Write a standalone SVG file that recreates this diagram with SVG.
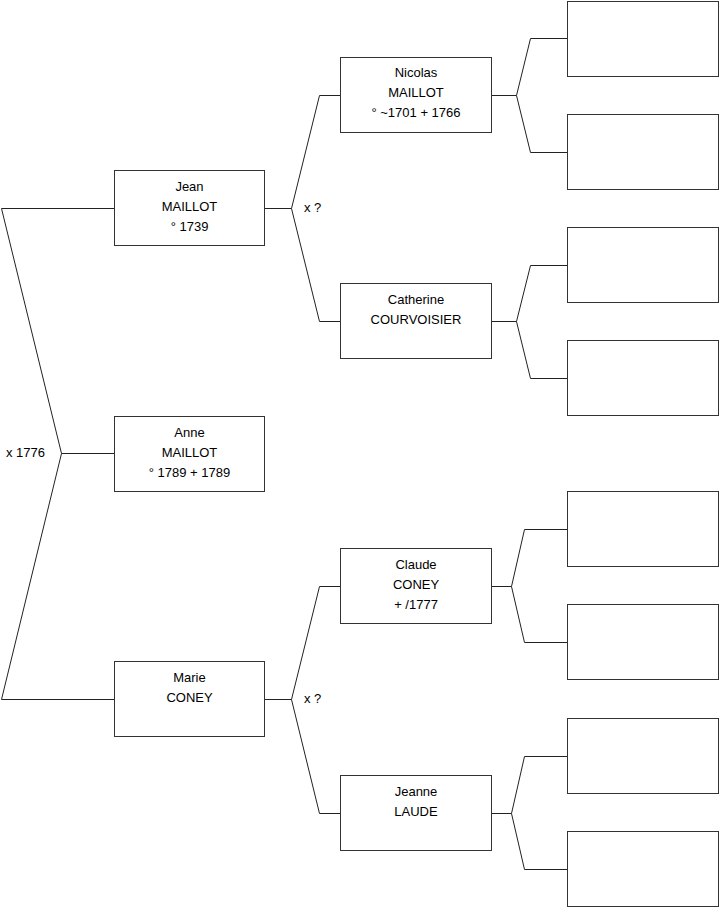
<svg xmlns="http://www.w3.org/2000/svg" width="719" height="908" viewBox="0 0 719 908">
<style>
.box{fill:#fff;stroke:#333;stroke-width:1}
.ln{fill:none;stroke:#222;stroke-width:1}
text{font-family:"Liberation Sans",Arial,sans-serif;font-size:13px;fill:#000}
.c{text-anchor:middle}
</style>
<rect width="719" height="908" fill="#fff"/>
<g id="connectors">
<polyline class="ln" points="114,208.5 1.5,208.5 61.5,453.5 1.5,699.5 114,699.5"/>
<line class="ln" x1="61.5" y1="453.5" x2="114" y2="453.5"/>
<polyline class="ln" points="340,95.5 319.5,95.5 291.5,208.5 319.5,321.5 340,321.5"/>
<line class="ln" x1="265" y1="208.5" x2="291.5" y2="208.5"/>
<polyline class="ln" points="340,586.5 319.5,586.5 291.5,699.5 319.5,813.5 340,813.5"/>
<line class="ln" x1="265" y1="699.5" x2="291.5" y2="699.5"/>
<polyline class="ln" points="567,38.5 530.5,38.5 516.5,95.5 530.5,152.5 567,152.5"/>
<line class="ln" x1="492" y1="95.5" x2="516.5" y2="95.5"/>
<polyline class="ln" points="567,265.5 530.5,265.5 516.5,321.5 530.5,378.5 567,378.5"/>
<line class="ln" x1="492" y1="321.5" x2="516.5" y2="321.5"/>
<polyline class="ln" points="567,529.5 524.5,529.5 511.5,586.5 524.5,642.5 567,642.5"/>
<line class="ln" x1="492" y1="586.5" x2="511.5" y2="586.5"/>
<polyline class="ln" points="567,756.5 524.5,756.5 511.5,813.5 524.5,869.5 567,869.5"/>
<line class="ln" x1="492" y1="813.5" x2="511.5" y2="813.5"/>
<text x="304" y="212">x ?</text>
<text x="304" y="703">x ?</text>
<text x="6" y="457">x 1776</text>
</g>
<g id="jean">
<rect class="box" x="114.5" y="170.5" width="150" height="75"/>
<text class="c" x="189.5" y="191">Jean</text>
<text class="c" x="189.5" y="211">MAILLOT</text>
<text class="c" x="189.5" y="231">° 1739</text>
</g>
<g id="anne">
<rect class="box" x="114.5" y="416.5" width="150" height="75"/>
<text class="c" x="189.5" y="437">Anne</text>
<text class="c" x="189.5" y="457">MAILLOT</text>
<text class="c" x="189.5" y="477">° 1789 + 1789</text>
</g>
<g id="marie">
<rect class="box" x="114.5" y="661.5" width="150" height="75"/>
<text class="c" x="189.5" y="682">Marie</text>
<text class="c" x="189.5" y="702">CONEY</text>
</g>
<g id="nicolas">
<rect class="box" x="340.5" y="57.5" width="151" height="75"/>
<text class="c" x="416" y="77">Nicolas</text>
<text class="c" x="416" y="97">MAILLOT</text>
<text class="c" x="416" y="117">° ~1701 + 1766</text>
</g>
<g id="catherine">
<rect class="box" x="340.5" y="283.5" width="151" height="75"/>
<text class="c" x="416" y="304">Catherine</text>
<text class="c" x="416" y="324">COURVOISIER</text>
</g>
<g id="claude">
<rect class="box" x="340.5" y="548.5" width="151" height="75"/>
<text class="c" x="416" y="569">Claude</text>
<text class="c" x="416" y="589">CONEY</text>
<text class="c" x="416" y="609">+ /1777</text>
</g>
<g id="jeanne">
<rect class="box" x="340.5" y="775.5" width="151" height="75"/>
<text class="c" x="416" y="796">Jeanne</text>
<text class="c" x="416" y="816">LAUDE</text>
</g>
<g id="p1"><rect class="box" x="567.5" y="1.5" width="151" height="75"/></g>
<g id="p2"><rect class="box" x="567.5" y="114.5" width="151" height="75"/></g>
<g id="p3"><rect class="box" x="567.5" y="227.5" width="151" height="75"/></g>
<g id="p4"><rect class="box" x="567.5" y="340.5" width="151" height="75"/></g>
<g id="p5"><rect class="box" x="567.5" y="491.5" width="151" height="75"/></g>
<g id="p6"><rect class="box" x="567.5" y="604.5" width="151" height="75"/></g>
<g id="p7"><rect class="box" x="567.5" y="718.5" width="151" height="75"/></g>
<g id="p8"><rect class="box" x="567.5" y="831.5" width="151" height="75"/></g>
</svg>
